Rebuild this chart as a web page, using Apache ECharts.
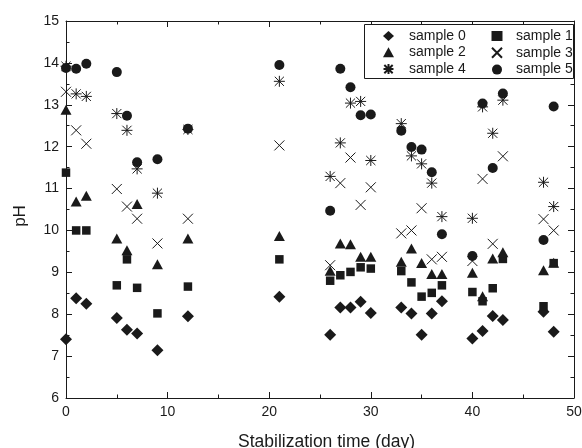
<!DOCTYPE html>
<html><head><meta charset="utf-8">
<script src="https://cdn.jsdelivr.net/npm/echarts@6/dist/echarts.min.js"></script>
<style>html,body{margin:0;padding:0;background:#fff}#c{width:582px;height:448px}</style>
</head><body><div id="c"></div>
<script>
const days = [0,1,2,5,6,7,9,12,21,26,27,28,29,30,33,34,35,36,37,40,41,42,43,47,48];
const sample0 = [7.40,8.38,8.25,7.91,7.63,7.54,7.14,7.95,8.42,7.51,8.16,8.16,8.30,8.03,8.16,8.02,7.51,8.02,8.31,7.42,7.60,7.96,7.86,8.06,7.58];
const sample1 = [11.38,10.0,10.0,8.69,9.31,8.63,8.02,8.66,9.31,8.80,8.93,9.01,9.12,9.09,9.03,8.76,8.42,8.51,8.69,8.53,8.31,8.62,9.32,8.19,9.22];
const sample2 = [12.88,10.69,10.83,9.81,9.53,10.63,9.19,9.81,9.87,9.04,9.69,9.67,9.37,9.37,9.25,9.57,9.22,8.96,8.96,8.99,8.43,9.33,9.48,9.05,9.23];
const sample3 = [13.31,12.39,12.07,10.99,10.57,10.28,9.69,10.28,12.03,9.17,11.13,11.74,10.61,11.03,9.93,10.0,10.53,9.31,9.37,9.27,11.23,9.68,11.77,10.27,10.0];
const sample4 = [13.92,13.26,13.20,12.79,12.39,11.47,10.89,12.41,13.56,11.29,12.09,13.04,13.08,11.67,12.55,11.78,11.59,11.13,10.33,10.29,12.95,12.32,13.11,11.15,10.57];
const sample5 = [13.88,13.86,13.98,13.78,12.74,11.63,11.70,12.43,13.95,10.47,13.86,13.42,12.75,12.77,12.38,11.99,11.93,11.39,9.91,9.39,13.03,11.49,13.27,9.77,12.96];
const seriesNames = ['sample 0','sample 1','sample 2','sample 3','sample 4','sample 5'];
const xTitle = 'Stabilization time (day)';
const yTitle = 'pH';

const ink = '#1a1a1a';
const font = 'Liberation Sans, Arial, sans-serif';
const crossPath = 'path://M0,0L10,10M10,0L0,10';
const starPath = 'path://M0,0L10,10M10,0L0,10M5,-1L5,11M-1,5L11,5';

function pts(v){ return days.map((d,i)=>[d, v[i]]); }
const defs = [
  {data: sample0, symbol:'diamond', size:12, stroke:false},
  {data: sample1, symbol:'rect', size:8.5, stroke:false},
  {data: sample2, symbol:'triangle', size:[11,10], stroke:false},
  {data: sample3, symbol:crossPath, size:10, stroke:true},
  {data: sample4, symbol:starPath, size:11, stroke:true},
  {data: sample5, symbol:'circle', size:10, stroke:false}
];
const series = defs.map((d,i)=>({
  name: seriesNames[i], type:'scatter', data: pts(d.data),
  symbol: d.symbol, symbolSize: d.size, clip:false,
  itemStyle: d.stroke ? {color:'none', borderColor:ink, borderWidth:1, opacity:1} : {color:ink, borderWidth:0, opacity:1},
  emphasis:{disabled:true}
}));

const axisCommon = {
  axisLine:{show:true, onZero:false, lineStyle:{color:ink, width:1}},
  axisTick:{show:true, inside:true, length:6, lineStyle:{color:ink}},
  minorTick:{show:true, splitNumber:2, length:3.5, lineStyle:{color:ink}},
  splitLine:{show:false}
};
function makeLegend(names, left, padLeft){
  return {
    data: names, left: left, orient:'vertical', top:29, padding:0,
    itemWidth:11, itemHeight:10, itemGap:2.3, z:5,
    textStyle:{color:ink, fontSize:14, fontFamily:font, lineHeight:14, padding:[0,0,0,padLeft]}
  };
}

const chart = echarts.init(document.getElementById('c'), null, {renderer:'canvas'});
chart.setOption({
  backgroundColor:'#fff',
  animation:false,
  grid:{left:66, right:8, top:21, bottom:50, containLabel:false, outerBoundsMode:'none'},
  xAxis:[
    Object.assign({type:'value', min:0, max:50, interval:10, position:'bottom',
      name:xTitle, nameLocation:'middle', nameGap:35,
      nameTextStyle:{color:ink, fontSize:17.5, fontFamily:font, padding:[0,0,0,13]},
      axisLabel:{color:ink, fontSize:14, fontFamily:font, margin:7}}, axisCommon),
    Object.assign({type:'value', min:0, max:50, interval:10, position:'top',
      axisLabel:{show:false}}, axisCommon)
  ],
  yAxis:[
    Object.assign({type:'value', min:6, max:15, interval:1, position:'left',
      name:yTitle, nameLocation:'middle', nameGap:37,
      nameTextStyle:{color:ink, fontSize:17, fontFamily:font, padding:[0,13,0,0]},
      axisLabel:{color:ink, fontSize:14, fontFamily:font, margin:7}}, axisCommon),
    Object.assign({type:'value', min:6, max:15, interval:1, position:'right',
      axisLabel:{show:false}}, axisCommon)
  ],
  graphic:[{type:'rect', z:3, shape:{x:364.5, y:24.5, width:209, height:54},
    style:{fill:'#fff', stroke:ink, lineWidth:1}}],
  legend:[
    makeLegend([seriesNames[0],seriesNames[2],seriesNames[4]], 381, 10),
    makeLegend([seriesNames[1],seriesNames[3],seriesNames[5]], 489.5, 8.5)
  ],
  series: series
});
</script></body></html>
